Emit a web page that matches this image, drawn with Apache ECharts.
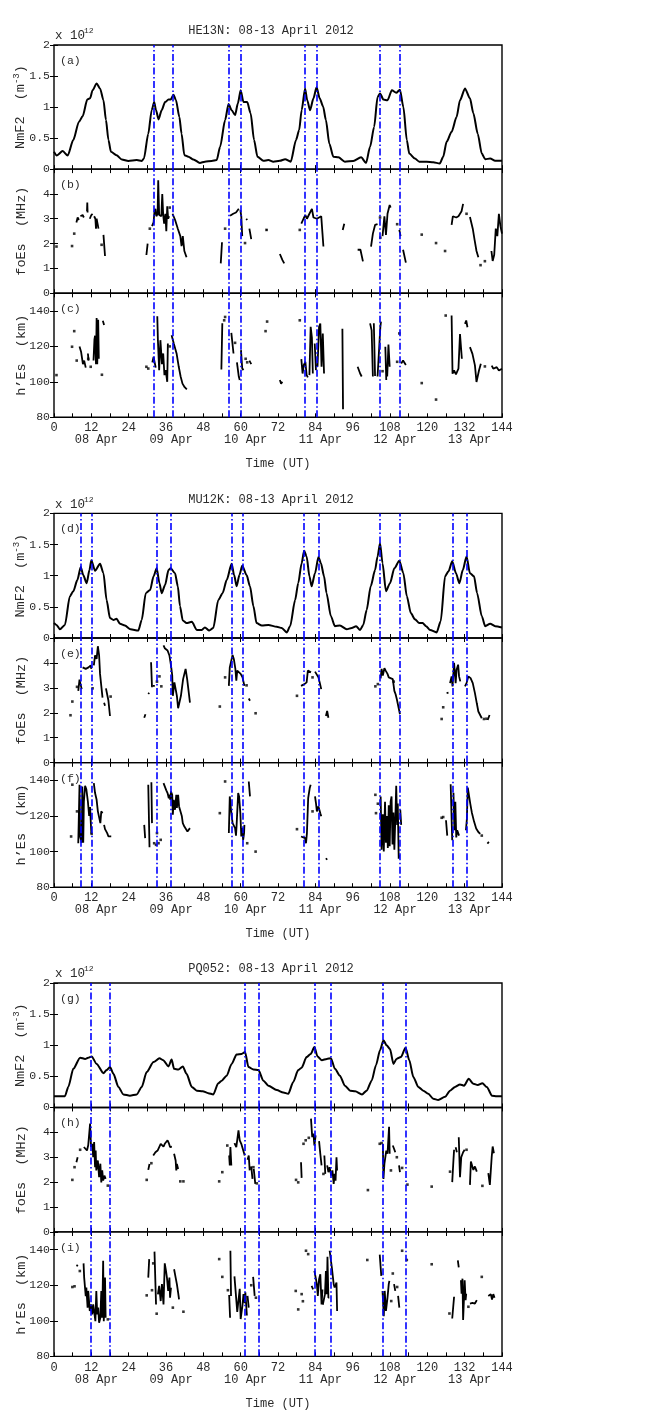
<!DOCTYPE html>
<html>
<head>
<meta charset="utf-8">
<script src="https://cdn.jsdelivr.net/npm/echarts@6/dist/echarts.min.js"></script>
<style>
  html, body { margin: 0; padding: 0; background: #fff; }
  #chart { width: 650px; height: 1412px; }
</style>
</head>
<body>
<div id="chart"></div>
<script>
// ---------- axis ticks / labels ----------
const hourMax = 144;
const hourStep = 12;
const dayHours = [12, 36, 60, 84, 108, 132];
const dayLabels = ['08 Apr', '09 Apr', '10 Apr', '11 Apr', '12 Apr', '13 Apr'];
const panelLetters = ['a', 'b', 'c', 'd', 'e', 'f', 'g', 'h', 'i'];

// ---------- HE13N ----------
const he13nNmF2 = [[0,0.28],[0.9,0.22],[2.8,0.29],[4.4,0.22],[6.2,0.47],[8,0.76],[9.2,0.85],[10.7,1.12],[11.6,1.14],[12.4,1.27],[13.7,1.38],[14.8,1.30],[15.9,1.11],[16.7,0.79],[17.5,0.47],[18.3,0.28],[20.1,0.225],[21.8,0.155],[23.9,0.13],[26.6,0.145],[28.2,0.13],[28.9,0.17],[30.3,0.57],[31.4,0.95],[32.2,1.08],[32.8,0.95],[33.6,0.80],[34.6,0.95],[35.7,1.08],[36.8,1.12],[37.5,1.12],[38.4,1.20],[39.2,1.11],[40.3,0.84],[41,0.57],[41.9,0.225],[43.2,0.2],[44.8,0.155],[46.9,0.1],[48.5,0.12],[50.7,0.13],[52.3,0.145],[53.4,0.36],[55,0.79],[56.1,1.05],[57.1,0.95],[58.2,0.87],[59.1,1.06],[60,1.27],[60.9,1.08],[62.1,1.08],[63.2,0.90],[64.3,0.47],[65.4,0.2],[67.3,0.135],[68.9,0.145],[70.5,0.12],[72.6,0.135],[74.3,0.16],[76.1,0.12],[77.8,0.47],[78.8,0.63],[79.6,0.95],[80.7,1.30],[81.4,1.11],[82.3,0.95],[83.4,1.14],[84.4,1.32],[85.4,1.14],[86.5,1.01],[87.4,0.79],[88.5,0.41],[89.8,0.2],[91.4,0.19],[93.5,0.12],[96.2,0.13],[98.7,0.19],[100.3,0.1],[101.6,0.36],[102.9,0.68],[104,1.16],[104.8,1.22],[105.9,1.12],[107.2,1.11],[108.6,1.27],[110,1.23],[111.2,1.28],[112.3,1.0],[113.4,0.47],[114.2,0.25],[116,0.17],[117.4,0.12],[119.8,0.12],[121.9,0.11],[124,0.09],[125.1,0.2],[126.2,0.44],[127.8,0.6],[129.4,0.84],[130.5,1.11],[132.1,1.30],[133.7,1.14],[134.8,0.9],[136.2,0.57],[137.5,0.25],[138.6,0.16],[140.2,0.17],[141.8,0.135],[144,0.135]];
const he13nFoEsLines = [
  [[7.2,2.85],[7.6,3.05],[8.0,2.95]],
  [[8.5,3.1],[9.2,3.15],[9.6,3.05]],
  [[10.6,3.3],[10.7,3.65],[10.8,3.25]],
  [[11.5,3.0],[12.0,3.15],[12.4,3.2]],
  [[12.9,3.1],[13.3,3.0],[13.5,2.6],[13.7,3.0],[14.0,2.8],[14.3,2.6]],
  [[15.9,2.35],[16.4,1.5]],
  [[29.7,1.54],[30.1,2.0]],
  [[31.5,2.7],[32.0,2.85],[32.3,3.3],[32.6,3.4],[32.9,3.1],[33.3,3.2],[33.5,4.55],[33.8,3.15],[34.2,3.2],[34.5,3.1],[34.8,4.0],[35.1,3.15],[35.4,2.8],[35.8,3.2],[36.1,2.5],[36.4,3.5],[36.7,3.0],[37.0,3.1]],
  [[38.1,3.2],[38.9,2.96],[39.8,2.6],[40.6,2.3],[41.0,1.9],[41.4,2.3],[41.9,1.7],[42.6,1.45]],
  [[53.6,1.2],[54.0,2.05]],
  [[56.6,3.12],[57.6,3.2],[58.5,3.25],[59.4,3.4]],
  [[59.9,3.35],[60.2,3.1],[60.5,2.3]],
  [[61.8,3.0],[62.1,2.95]],
  [[62.8,2.6],[63.4,2.18]],
  [[68.2,2.55],[68.6,2.55]],
  [[72.6,1.58],[73.4,1.34],[74.0,1.2]],
  [[79.5,2.8],[80.2,3.0],[80.8,3.15],[81.3,3.0],[82.1,3.2],[82.9,3.4],[83.4,3.05],[84.0,3.1],[84.5,3.0],[85.0,2.95],[85.9,3.1],[86.3,2.4],[86.6,1.88]],
  [[92.8,2.55],[93.3,2.8]],
  [[97.6,1.75],[98.5,1.75],[99.3,1.28]],
  [[101.9,1.88],[102.5,2.4],[103.2,2.75],[104.0,2.78]],
  [[105.6,2.3],[106.2,3.1],[106.7,2.35],[107.2,3.2],[107.9,3.55],[108.2,3.45]],
  [[111.0,2.55],[111.4,2.3]],
  [[112.2,1.75],[113.1,1.23]],
  [[127.8,2.75],[128.2,3.1],[129.3,3.05],[130.0,3.1],[131.0,3.3],[131.5,3.6]],
  [[133.7,3.07],[134.6,2.6],[135.2,2.14],[135.8,1.7],[136.4,1.45]],
  [[140.6,1.7],[141.0,1.3],[141.5,1.55],[142.0,2.6],[142.5,2.3],[143.0,3.2],[143.5,2.7],[144,2.4]]
];
const he13nFoEsDots = [[0.8,1.88],[5.8,1.9],[6.5,2.4],[15.3,1.95],[30.8,2.6],[37.2,3.45],[55.0,2.6],[61.4,2.02],[68.3,2.55],[79.0,2.55],[104.8,3.05],[104.9,2.24],[110.3,2.78],[118.2,2.36],[122.8,2.02],[125.7,1.7],[132.6,3.2],[137.1,1.13],[138.5,1.29]];
const he13nHEsLines = [
  [[8.2,120],[8.7,117],[9.3,110],[9.7,112],[10.2,108]],
  [[10.9,116],[11.1,112]],
  [[12.7,112],[13.0,124],[13.2,126],[13.5,110],[13.7,136],[13.9,110],[14.2,135],[14.4,113]],
  [[15.7,134.4],[16.1,132]],
  [[31.6,111],[32.0,114],[32.4,113],[32.7,108]],
  [[33.2,137],[33.4,123.5],[33.8,106.6],[34.2,123.5],[34.7,110],[35.1,116],[35.5,103.8],[35.9,106.6],[36.4,100],[36.6,121.6]],
  [[37.8,126.3],[38.5,121.6],[39.4,116],[40.1,108.5],[40.7,103],[41.3,99],[42.0,97],[42.7,95.8]],
  [[53.8,107],[54.1,133]],
  [[57.0,127.6],[57.7,116]],
  [[58.8,111],[59.4,103],[59.7,101]],
  [[60.1,117.9],[60.5,107.6],[60.9,106.6]],
  [[62.8,112],[63.4,110]],
  [[72.6,101],[73.0,99],[73.4,100]],
  [[79.5,112.8],[79.9,104.7],[80.3,109.5],[80.8,111.3],[81.2,103.8],[81.6,102.5]],
  [[82.1,103.8],[82.5,131],[82.9,125],[83.2,104.7]],
  [[83.8,121.6],[84.2,106.6]],
  [[84.7,108.5],[85.2,131],[85.6,132.9],[86.0,108.5],[86.4,127.3],[86.8,104.7]],
  [[92.7,130],[92.9,84.5]],
  [[97.6,108.5],[98.4,104.7],[98.9,103]],
  [[101.6,133],[102.1,129],[102.5,103]],
  [[102.8,133],[103.2,103.3]],
  [[104.0,103],[104.9,131],[105.1,134]],
  [[106.5,119.8],[106.8,101]],
  [[107.1,103],[107.5,121],[107.9,108.5]],
  [[111.6,110.4],[112.2,112],[113.1,109.5]],
  [[127.8,137.4],[128.1,104.6],[128.6,106.4],[129.2,104.2],[130.0,107.4],[130.5,127],[131.1,113]],
  [[132.1,132.7],[132.5,134.6],[132.9,130.8]],
  [[133.7,119.6],[134.5,115.8],[135.3,109.3],[135.8,99.9],[136.6,106.4],[137.2,110.2]],
  [[140.7,109.2],[141.2,107.4],[142.3,108.3],[143.0,106.4],[144,107.4]]
];
const he13nHEsDots = [[0.8,103.8],[5.8,119.8],[6.5,128.6],[7.3,112],[11.0,113],[11.8,108.5],[15.4,104],[29.7,108.5],[30.3,107.5],[37.2,120],[54.7,134.7],[55.0,136.6],[58.2,122],[61.6,113],[62.1,111],[68.0,128.6],[68.5,134],[79.0,134.7],[105.6,106],[110.3,111.3],[111.0,127.3],[118.2,99.3],[122.8,90],[125.9,137.4],[138.5,108.7]];
const he13nEvents = [32, 38.1, 56.3, 60, 80.7, 84.5, 104.6, 111];

// ---------- MU12K ----------
const mu12kNmF2 = [[0,0.24],[0.8,0.21],[1.9,0.14],[3.5,0.21],[5.1,0.67],[6.2,0.75],[7.5,0.93],[8.6,1.14],[9.4,1.01],[10.5,0.88],[11.4,1.09],[12,1.25],[13.2,1.08],[14.8,1.19],[15.9,1.04],[16.9,0.61],[18,0.32],[19.1,0.29],[20.1,0.31],[21.2,0.23],[22.8,0.2],[24.6,0.14],[27.1,0.12],[28.2,0.29],[29.5,0.72],[30.9,0.77],[32,0.99],[33,1.12],[33.9,0.88],[34.6,0.72],[35.7,0.85],[36.8,1.09],[37.5,1.12],[38.9,1.04],[39.8,0.83],[40.5,0.51],[41.4,0.28],[42.6,0.24],[44.3,0.26],[45.9,0.13],[47.5,0.13],[48.5,0.17],[49.9,0.12],[51.2,0.16],[52.8,0.61],[54.2,0.72],[55.5,0.93],[57.1,1.19],[57.9,1.01],[58.7,0.83],[59.6,1.01],[60.5,1.16],[61.9,1.01],[63,0.83],[64.1,0.51],[65.1,0.24],[66.8,0.2],[68.9,0.21],[71.6,0.18],[73.2,0.16],[74.8,0.09],[75.9,0.19],[77.5,0.61],[78.5,0.88],[79.6,1.2],[80.4,1.40],[81.2,1.31],[82.1,0.99],[82.8,0.83],[83.9,1.04],[85,1.30],[85.8,1.2],[86.8,0.99],[87.6,0.72],[89,0.35],[90.3,0.19],[91.9,0.2],[94.1,0.14],[95.7,0.16],[97.1,0.19],[98.4,0.13],[99.4,0.21],[100.5,0.45],[101.8,0.83],[103.2,1.09],[104,1.31],[104.8,1.52],[105.6,1.2],[106.7,0.75],[108,0.88],[109.4,1.12],[111,1.24],[112.3,1.04],[113.4,0.67],[114.7,0.4],[116,0.3],[117.4,0.24],[118.5,0.24],[119.6,0.19],[120.9,0.13],[123,0.09],[124.3,0.27],[125.7,0.99],[126.8,1.07],[128,1.23],[129.2,1.04],[130.3,0.88],[131.4,1.09],[132.6,1.31],[133.7,1.04],[135,0.99],[136,0.72],[137.5,0.35],[138.6,0.19],[140.2,0.23],[141.8,0.19],[144,0.17]];
const mu12kFoEsLines = [
  [[7.8,2.88],[8.2,3.33],[8.6,3.38],[8.9,2.95]],
  [[9.2,3.82],[9.6,3.76],[10.2,3.76],[11.1,3.82],[11.8,3.9],[12.0,3.76]],
  [[12.8,3.9],[13.2,4.3],[13.7,4.16],[14.1,4.67],[14.5,4.3],[14.8,3.56],[15.2,3.08],[15.6,2.61],[15.8,2.61]],
  [[16.1,2.4],[16.4,2.28]],
  [[16.7,2.98],[17.1,2.95],[17.5,2.48],[18.0,1.87]],
  [[29.0,1.8],[29.4,1.94]],
  [[30.3,2.75],[30.6,2.8]],
  [[31.2,4.03],[31.5,3.02]],
  [[31.8,3.08],[32.4,3.08]],
  [[35.2,4.7],[35.6,4.59],[36.5,4.5],[37.1,4.3],[37.6,3.9],[38.0,3.5],[38.2,2.68],[38.7,3.22],[39.1,3.15],[39.5,2.68],[39.9,2.18],[40.4,2.22],[40.8,2.68],[41.5,3.35],[42.3,3.76],[42.8,3.35],[43.7,2.41]],
  [[56.2,3.08],[56.5,3.82],[56.9,3.89],[57.4,4.32],[57.8,4.16],[58.3,3.76],[58.6,3.29],[58.9,3.69],[59.5,3.62],[60.0,3.56],[60.6,3.42],[61.2,3.08]],
  [[62.6,2.57],[63.0,2.48]],
  [[79.4,3.08],[80.5,3.15],[81.2,3.22],[81.6,3.69],[82.6,3.62]],
  [[83.9,3.65],[84.5,3.62],[85.0,3.42],[85.4,3.22],[85.9,2.95]],
  [[87.4,1.87],[87.8,2.07],[88.2,1.8]],
  [[105.0,3.38],[105.3,3.76],[105.7,3.49],[106.2,3.79],[106.6,3.69],[107.2,3.56],[107.6,3.42],[108.2,3.35],[108.9,3.35],[109.4,2.88],[109.8,2.74],[110.2,2.54],[110.6,2.54],[111.2,1.94]],
  [[126.2,2.79],[126.8,2.81]],
  [[127.3,3.19],[127.8,3.46],[128.1,3.06],[128.6,4.0],[129.1,3.19],[129.4,3.73],[129.9,3.93],[130.2,3.46],[130.6,3.26]],
  [[132.1,3.06],[132.6,3.19],[133.2,3.46],[133.9,3.39],[134.6,3.19],[135.3,2.79],[135.9,2.38],[136.4,2.05],[136.9,1.98],[137.5,1.78]],
  [[139.4,1.71],[140.0,1.91]]
];
const mu12kFoEsDots = [[5.3,1.9],[5.9,2.45],[7.4,3.04],[12.4,2.98],[18.2,2.65],[33.1,3.25],[33.9,3.46],[34.5,3.06],[53.3,2.25],[55.0,3.42],[61.9,3.1],[64.8,1.98],[78.1,2.68],[83.1,3.42],[103.3,3.06],[104.1,3.15],[109.2,3.25],[124.6,1.75],[125.1,2.22],[138.2,1.75],[139.0,1.76]];
const mu12kHEsLines = [
  [[7.8,104.7],[8.2,137.6],[8.4,108.5],[8.9,105],[9.1,136.6],[9.3,105.7]],
  [[9.4,105],[9.6,128],[10.0,137],[10.4,135],[10.9,128],[11.3,120],[11.6,125],[12.0,110]],
  [[12.8,138.5],[13.2,132.9],[13.7,129.1],[14.1,122.6],[14.5,123.5],[14.9,116],[15.2,122.6],[15.6,121.6]],
  [[16.1,115],[16.4,112.6],[17.1,110.4],[17.5,108.5],[18.4,108.5]],
  [[29.0,115],[29.3,107.6]],
  [[30.3,137.6],[30.7,102.5]],
  [[31.3,138.9],[31.5,116]],
  [[35.2,138.5],[35.6,137.6],[36.1,134.4],[36.5,132.9],[36.9,130],[37.2,131.9],[37.4,129],[37.6,133.8],[38.0,131.9],[38.2,120.7],[38.5,129.1],[38.9,123.5],[39.3,131.9],[39.5,124.5],[39.9,131.9],[40.2,125.4],[40.6,124.5],[41.1,119.8],[41.4,116],[41.9,114.1],[42.5,115],[42.9,111.3],[43.4,110.4],[43.7,113.2]],
  [[56.2,110.4],[56.5,131],[56.9,123.5],[57.4,116],[57.8,115],[58.2,113.2],[58.5,108.9],[58.7,115],[59.2,132.9],[59.5,131],[59.9,121.6],[60.2,108.5],[60.5,113.2],[60.8,106.6],[61.1,110.4],[61.2,115]],
  [[62.6,139.4],[63.0,131]],
  [[79.4,108.5],[80.0,107.6],[80.7,107.6],[81.0,104.7],[81.3,110.4],[81.7,130],[82.2,135.7],[82.5,137.6]],
  [[83.9,131],[84.2,127.3],[84.5,122.6],[85.0,125.4],[85.4,126.3],[85.6,121.6],[85.9,119.8]],
  [[87.4,96.3],[87.8,95.4]],
  [[105.0,131],[105.3,101],[105.7,121],[106.0,100],[106.4,128],[106.7,105],[107.0,120],[107.3,102],[107.6,126],[107.9,103],[108.2,128],[108.5,131],[108.8,104],[109.1,122],[109.4,101],[109.7,118],[110.0,137],[110.3,115]],
  [[110.5,127],[110.8,96],[111.0,98]],
  [[111.3,123.5],[111.6,115]],
  [[126.0,117.6],[126.4,109]],
  [[127.5,137.8],[128.0,106.4]],
  [[128.4,133],[128.7,112],[129.0,128],[129.3,108],[129.6,112],[130.2,109]],
  [[132.4,112],[132.7,118],[133.0,136],[133.4,137],[133.8,127],[134.3,122],[135.0,117],[135.7,113],[136.4,111],[137.0,110]],
  [[139.3,104.5],[139.8,105.4]]
];
const mu12kHEsDots = [[5.5,108.5],[5.9,137.6],[7.4,122.6],[12.1,110],[32.2,104.7],[32.8,103.8],[33.1,110.4],[33.6,104.7],[34.3,106.6],[53.3,121.6],[55.0,139.4],[62.1,104.7],[64.8,100],[78.1,112.6],[83.1,122.6],[103.3,131.9],[103.5,121.6],[104.1,126.9],[124.6,119],[125.1,119.4],[137.5,109]];
const mu12kEvents = [8.6, 12, 33, 37.4, 57.1, 60.6, 80.4, 85.2, 104.8, 111.2, 128.1, 132.6];

// ---------- PQ052 ----------
const pq052NmF2 = [[0,0.18],[3.5,0.18],[4.6,0.33],[6.2,0.62],[8.4,0.80],[10,0.78],[11,0.80],[12.1,0.82],[13.7,0.70],[15.9,0.55],[16.9,0.60],[18,0.65],[19.1,0.54],[20.7,0.33],[22.3,0.21],[24.4,0.19],[26.6,0.21],[28.2,0.33],[29.8,0.57],[32,0.73],[33.9,0.79],[35.1,0.76],[36.8,0.66],[37.8,0.77],[38.6,0.62],[40,0.61],[41.4,0.66],[42.6,0.54],[44.3,0.33],[45.9,0.27],[47.8,0.26],[49.6,0.23],[51.2,0.21],[52.8,0.39],[53.9,0.43],[55.5,0.51],[57.1,0.70],[58.7,0.85],[60.3,0.86],[61.4,0.89],[62.5,0.65],[64.1,0.61],[65.7,0.6],[67.3,0.43],[68.9,0.35],[71.6,0.28],[73.7,0.24],[75.3,0.22],[76.9,0.41],[78.5,0.6],[79.6,0.64],[81.2,0.81],[82.5,0.86],[83.7,0.97],[84.7,0.82],[86.1,0.76],[87.7,0.78],[89,0.79],[90.3,0.62],[91.9,0.51],[93.5,0.35],[95.2,0.27],[96.8,0.26],[99,0.21],[100.5,0.27],[102.1,0.43],[103.5,0.68],[104.8,0.92],[105.9,1.08],[106.9,1.0],[108,0.94],[109.1,0.70],[110.1,0.78],[111.5,0.81],[113,0.96],[114.2,0.76],[115.5,0.49],[117.1,0.33],[118.7,0.27],[120.3,0.22],[121.9,0.14],[123.5,0.12],[125.7,0.17],[127.3,0.27],[128.9,0.33],[130.5,0.37],[131.8,0.35],[133.3,0.46],[134.8,0.38],[136.2,0.36],[137.7,0.39],[139.1,0.33],[140.8,0.19],[142.3,0.18],[144,0.18]];
const pq052FoEsLines = [
  [[7.2,2.8],[7.6,3.0]],
  [[9.6,3.41],[10.2,3.48],[10.6,3.27],[11.0,3.48],[11.5,3.41],[11.6,4.35],[11.9,3.41],[12.3,3.54],[12.6,3.0],[12.9,3.61],[13.2,2.6],[13.4,3.27],[13.6,2.47],[14.1,2.87],[14.5,2.2],[14.9,2.74],[15.2,1.99],[15.5,2.47],[15.8,2.06],[16.2,2.26],[16.6,2.13]],
  [[30.3,2.49],[30.7,2.73]],
  [[31.9,3.07],[32.6,3.2],[33.3,3.27],[33.9,3.34],[34.3,3.54],[34.7,3.47],[35.2,3.43],[35.6,3.54],[36.0,3.47],[36.5,3.68],[36.9,3.57],[37.3,3.41],[37.6,3.47],[37.9,3.43]],
  [[38.6,3.14],[39.1,2.87],[39.3,2.47],[39.5,2.73],[39.9,2.53]],
  [[56.3,3.07],[56.5,2.67],[56.7,3.41],[57.0,2.67]],
  [[58.0,3.57],[58.6,3.41],[59.3,4.08],[59.7,3.68],[60.2,3.54],[60.6,3.47],[61.0,3.2],[61.3,3.07]],
  [[62.2,2.9],[62.6,3.07],[62.9,2.47]],
  [[63.4,2.63],[63.8,2.13]],
  [[64.2,2.53],[64.7,1.93]],
  [[79.4,2.8],[79.6,2.17]],
  [[82.6,4.55],[83.0,3.81],[83.4,3.95],[83.7,3.47],[84.1,3.88]],
  [[85.2,3.65],[85.6,3.14],[86.0,2.67]],
  [[86.9,3.07],[87.2,2.33]],
  [[87.8,2.67],[88.2,2.4],[88.6,2.6],[89.1,2.26],[89.5,2.47],[89.9,1.93],[90.2,2.33],[90.5,2.06],[90.8,3.0],[91.0,2.47]],
  [[105.7,3.54],[105.9,2.13],[106.2,2.73],[106.4,2.67],[106.8,3.27],[107.2,3.14],[107.7,4.22],[107.9,3.14]],
  [[108.9,3.47],[109.3,3.34],[109.7,3.2]],
  [[110.9,2.67],[111.2,2.4]],
  [[128.0,2.0],[128.4,2.9],[128.6,3.3]],
  [[129.1,3.4],[129.5,3.2]],
  [[130.1,3.8],[130.5,2.2],[130.9,3.0],[131.5,3.2],[132.0,3.3]],
  [[133.7,1.89],[134.0,2.83],[134.8,2.49],[135.3,2.63],[135.9,2.42]],
  [[139.6,2.36],[140.1,1.89],[140.7,3.03],[141.0,3.43],[141.4,3.16]]
];
const pq052FoEsDots = [[5.9,2.09],[6.6,2.6],[8.4,3.3],[17.3,1.86],[29.8,2.09],[31.3,2.76],[40.6,2.03],[41.6,2.03],[53.1,2.03],[54.1,2.4],[55.7,3.47],[64.1,2.6],[65.2,1.95],[77.8,2.09],[78.5,1.99],[80.2,3.54],[80.9,3.68],[81.9,3.78],[86.6,2.33],[100.9,1.68],[104.7,3.54],[105.3,3.57],[108.3,2.47],[110.2,3.0],[111.9,2.57],[113.6,1.9],[121.4,1.82],[127.3,2.42],[132.6,3.3],[137.7,1.85]];
const pq052HEsLines = [
  [[7.3,130.6],[7.6,131.5]],
  [[9.5,132.3],[9.7,124.3],[10.2,113.9],[10.4,118.7],[10.8,107.4],[11.0,116.8],[11.3,110.2],[11.5,105.5],[11.9,109.2],[12.3,103.6],[12.6,109.2],[12.9,105.5],[13.3,99.8],[13.6,116.8],[13.9,103.6],[14.2,107.4],[14.5,98.9],[14.9,101.7],[15.2,116.8],[15.5,101.7],[15.8,133.8],[16.0,99.8],[16.4,124.3],[16.6,101.7]],
  [[30.3,124.3],[30.6,134.7]],
  [[32.3,138.9],[32.8,109.2]],
  [[33.4,114.9],[33.8,119.6],[34.3,111.1],[34.7,120.6],[35.2,109.2],[35.6,132.3],[36.0,128.1],[36.3,124.3],[36.7,116.8],[37.1,124.3],[37.3,113],[37.6,118.7]],
  [[38.6,129],[39.1,124.3],[39.5,120.6],[39.9,115.8],[40.2,112.1]],
  [[56.3,114.5],[56.6,101.7]],
  [[56.7,139.4],[56.9,114]],
  [[58.0,125],[58.5,126],[58.9,105],[59.3,104],[59.7,118],[60.0,101],[60.3,100],[60.6,109],[60.9,115],[61.3,110],[61.5,116],[61.7,111],[62.0,103]],
  [[62.2,114],[62.6,107.4]],
  [[64.0,124.7],[64.5,114]],
  [[82.8,119.6],[83.3,117.7]],
  [[83.7,128.1],[84.1,129],[84.5,120.6],[84.8,114],[85.2,123.4],[85.6,126.2],[86.0,109.2],[86.3,117.7]],
  [[86.4,109],[86.8,110],[87.1,115],[87.4,128],[87.7,115],[87.9,136],[88.2,113],[88.5,113]],
  [[88.6,139.4],[89.3,130],[89.9,120.6],[90.2,118.7],[90.5,119.6],[90.8,121.5],[91.0,105.5]],
  [[104.7,137.2],[105.2,125.3]],
  [[105.6,116.8],[106.0,102.6],[106.3,116.8],[106.7,105.5],[107.2,113],[107.6,120.6],[107.8,122.5]],
  [[109.3,120.6],[109.7,116.8]],
  [[110.6,114],[111.0,107.4]],
  [[128.0,101.3],[128.6,113.5]],
  [[129.8,134],[130.1,130]],
  [[130.8,122.8],[131.0,115.3],[131.3,123.7],[131.5,100.4],[131.8,113.5],[132.0,122.8],[132.3,111.6],[132.5,115.3]],
  [[133.7,109.7],[134.5,110.1],[135.3,109.7],[135.9,111.6]],
  [[139.6,114],[140.0,113],[140.4,115],[140.8,112],[141.2,115],[141.6,113]]
];
const pq052HEsDots = [[5.9,119],[6.6,119.4],[8.3,128],[17.3,100.8],[29.8,114.3],[31.5,117.2],[31.9,132.3],[33.0,104],[38.2,107.4],[41.6,105.1],[53.1,134.7],[54.1,124.7],[55.9,117.2],[63.4,120],[64.9,113],[77.7,116.8],[78.5,106.4],[79.6,115],[80.0,111],[81.0,139.4],[81.7,137.5],[100.7,134.2],[108.4,111.1],[108.9,126.6],[110.3,119],[111.9,139.4],[113.4,134.2],[121.4,131.8],[127.1,104.1],[133.2,107.9],[137.5,124.7]];
const pq052Events = [11.9, 18, 61.2, 65.7, 83.7, 89, 105.8, 113];

// ---------- assembly ----------
const FONT = '"Liberation Mono", "Courier New", monospace';
const INK = '#2b2b2b';
const EVENT_BLUE = '#0000ff';

const stations = [
  { title: 'HE13N: 08-13 April 2012', nm: he13nNmF2, foL: he13nFoEsLines, foD: he13nFoEsDots, hL: he13nHEsLines, hD: he13nHEsDots, ev: he13nEvents },
  { title: 'MU12K: 08-13 April 2012', nm: mu12kNmF2, foL: mu12kFoEsLines, foD: mu12kFoEsDots, hL: mu12kHEsLines, hD: mu12kHEsDots, ev: mu12kEvents },
  { title: 'PQ052: 08-13 April 2012', nm: pq052NmF2, foL: pq052FoEsLines, foD: pq052FoEsDots, hL: pq052HEsLines, hD: pq052HEsDots, ev: pq052Events }
];
const blocks = [
  { top: 45, h: 124.1 },
  { top: 513.4, h: 124.6 },
  { top: 983, h: 124.45 }
];
const PLOT_LEFT = 54, PLOT_W = 448;

// y-axis setups for the three stacked panels
const panelKinds = [
  { min: 0, max: 2, interval: 0.5, showMax: true, name: 'NmF2  (m{sup|-3})' },
  { min: 0, max: 5, interval: 1, showMax: false, name: 'foEs  (MHz)' },
  { min: 80, max: 150, interval: 20, showMax: false, name: 'h\u2019Es  (km)' }
];

function withGaps(segments) {
  const out = [];
  segments.forEach((seg, i) => {
    if (i > 0) out.push([seg[0][0], null]);
    seg.forEach(p => out.push(p));
  });
  return out;
}

const grid = [], xAxis = [], yAxis = [], series = [], graphic = [];
const tickStyle = { color: '#000', width: 1 };

stations.forEach((st, g) => {
  const blk = blocks[g];
  graphic.push({ type: 'text', x: 271, y: blk.top - 14, style: { text: st.title, font: '12px ' + FONT, fill: INK, align: 'center', verticalAlign: 'middle' } });
  graphic.push({ type: 'text', x: 55, y: blk.top - 9, style: { text: 'x 10', font: '12.5px ' + FONT, fill: INK, align: 'left', verticalAlign: 'middle' } });
  graphic.push({ type: 'text', x: 84, y: blk.top - 14, style: { text: '12', font: '8px ' + FONT, fill: INK, align: 'left', verticalAlign: 'middle' } });

  for (let k = 0; k < 3; k++) {
    const p = g * 3 + k;
    const kind = panelKinds[k];
    const top = blk.top + k * blk.h;
    const isBottom = k === 2;
    grid.push({ left: PLOT_LEFT, width: PLOT_W, top: top, height: blk.h, show: true, borderColor: '#000', borderWidth: 1.4,
      backgroundColor: 'transparent', containLabel: false, outerBoundsMode: 'none' });

    graphic.push({ type: 'text', x: 60, y: top + 16, style: { text: '(' + panelLetters[p] + ')', font: '11.5px ' + FONT, fill: INK, align: 'left', verticalAlign: 'middle' } });

    const xCommon = {
      gridIndex: p, type: 'value', min: 0, max: hourMax, interval: hourStep,
      axisLine: { show: false },
      axisTick: { show: true, inside: true, length: 4, lineStyle: tickStyle },
      minorTick: { show: true, splitNumber: 2, length: 4, lineStyle: tickStyle },
      splitLine: { show: false }, minorSplitLine: { show: false }
    };
    const xi = xAxis.length;
    xAxis.push(Object.assign({}, xCommon, {
      position: 'bottom',
      axisLabel: { show: isBottom, margin: 5, fontFamily: FONT, fontSize: 12, color: INK, showMinLabel: true, showMaxLabel: true },
      name: isBottom ? 'Time (UT)' : '', nameLocation: 'middle', nameGap: 41, nameMoveOverlap: false,
      nameTextStyle: { fontFamily: FONT, fontSize: 12, color: INK }
    }));
    xAxis.push(Object.assign({}, xCommon, { position: 'top', axisLabel: { show: false } }));

    const yCommon = {
      gridIndex: p, type: 'value', min: kind.min, max: kind.max, interval: kind.interval,
      axisLine: { show: false },
      axisTick: { show: true, inside: true, length: 4, lineStyle: tickStyle },
      splitLine: { show: false }
    };
    const yi = yAxis.length;
    yAxis.push(Object.assign({}, yCommon, {
      position: 'left',
      axisLabel: { show: true, margin: 4, fontFamily: FONT, fontSize: 11.5, color: INK, showMaxLabel: kind.showMax, showMinLabel: true,
        formatter: v => (v > kind.max - 1e-9 && !kind.showMax) ? '' : String(v) },
      name: kind.name, nameLocation: 'middle', nameRotate: 90, nameGap: 26, nameMoveOverlap: false,
      nameTextStyle: { fontFamily: FONT, fontSize: 13.5, color: INK, rich: { sup: { fontFamily: FONT, fontSize: 9, color: INK, padding: [0, 0, 7, 0] } } }
    }));
    yAxis.push(Object.assign({}, yCommon, { position: 'right', axisLabel: { show: false } }));

    if (isBottom) {
      // calendar-day captions below the hour ticks
      xAxis.push({
        gridIndex: p, type: 'value', min: 0, max: hourMax, position: 'bottom',
        axisLine: { show: false }, axisTick: { show: false }, splitLine: { show: false },
        axisLabel: {
          show: true, customValues: dayHours, margin: 17, padding: [0, 0, 0, 10],
          fontFamily: FONT, fontSize: 12, color: INK,
          formatter: v => dayLabels[dayHours.indexOf(v)] || ''
        }
      });
    }

    const markLine = {
      silent: true, symbol: ['none', 'none'], animation: false,
      label: { show: false },
      lineStyle: { color: EVENT_BLUE, width: 1.6, type: [7, 2.5, 1.5, 2.5], opacity: 1 },
      emphasis: { disabled: true },
      data: st.ev.map(h => ({ xAxis: h }))
    };
    const axisRef = { xAxisIndex: xi, yAxisIndex: yi };

    if (k === 0) {
      series.push(Object.assign({ type: 'line', data: st.nm, smooth: 0.25, smoothMonotone: 'x', showSymbol: false, symbol: 'none',
        lineStyle: { color: '#000', width: 2 }, markLine, z: 3 }, axisRef));
    } else {
      const lines = k === 1 ? st.foL : st.hL;
      const dots = k === 1 ? st.foD : st.hD;
      series.push(Object.assign({ type: 'line', data: withGaps(lines), connectNulls: false, showSymbol: false, symbol: 'none',
        lineStyle: { color: '#000', width: 1.8 }, markLine, z: 3 }, axisRef));
      series.push(Object.assign({ type: 'scatter', data: dots, symbol: 'rect', symbolSize: 2.6,
        itemStyle: { color: '#000' }, z: 4 }, axisRef));
    }
  }
});

const chart = echarts.init(document.getElementById('chart'), null, { renderer: 'canvas' });
chart.setOption({
  animation: false,
  backgroundColor: '#fff',
  grid, xAxis, yAxis, series, graphic
});
</script>
</body>
</html>
